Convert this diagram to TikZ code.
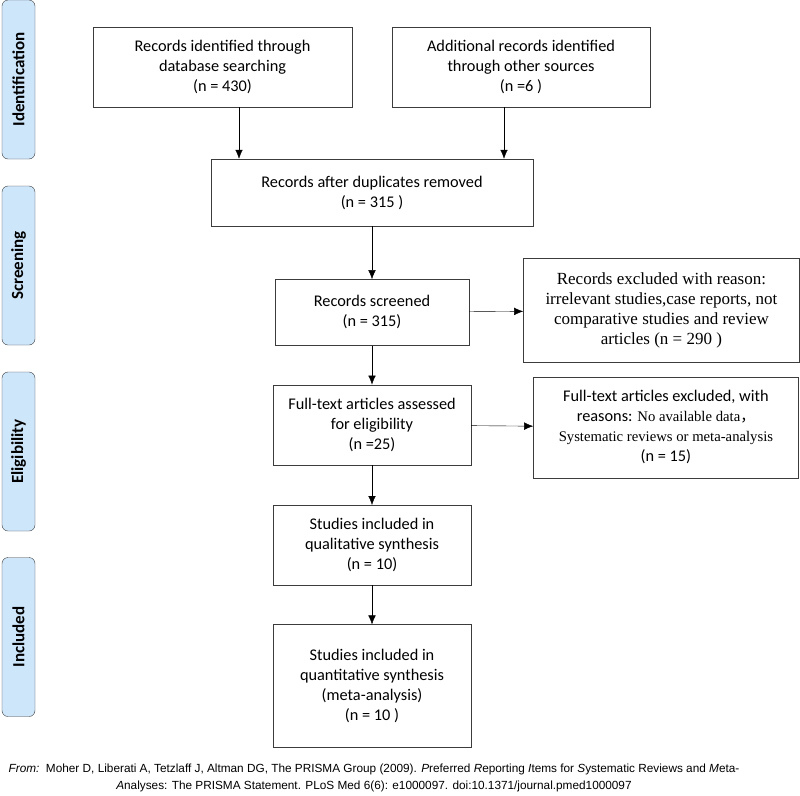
\documentclass[tikz,border=0pt]{standalone}
\usepackage{fontspec}
\setmainfont{Carlito}
\newfontfamily\timesf{Liberation Serif}
\newfontfamily\arialf{Liberation Sans}
\newfontfamily\cjkf{Noto Sans CJK SC}
\usetikzlibrary{positioning, arrows.meta}
\definecolor{sidefill}{RGB}{206,230,250}
\definecolor{boxline}{RGB}{60,60,60}
\tikzset{
  flowbox/.style={
    draw=boxline, align=center, inner sep=2pt,
    font=\fontsize{16.3}{20}\selectfont
  },
  phase/.style={
    draw=boxline, fill=sidefill, rounded corners=6pt, rotate=90,
    minimum width=159pt, minimum height=33pt,
    font=\fontsize{17}{20}\selectfont\bfseries
  },
  -{Latex[length=9pt,width=7.5pt]}, line width=1pt, node distance=40pt
}

\begin{document}
\begin{tikzpicture}
    \useasboundingbox (0,0) rectangle (800pt,-795pt);

    % phases
    \node[phase] (ph0) at (18.5pt,-79.5pt) {Identification};
    \node[phase] (ph1) at (18.5pt,-265.5pt) {Screening};
    \node[phase] (ph2) at (18.5pt,-451.5pt) {Eligibility};
    \node[phase] (ph3) at (18.5pt,-637pt) {Included};

    % boxes
    \node[flowbox, minimum width=259pt, minimum height=80pt] (id1) at (222.5pt,-67pt)
      {Records identified through\\database searching\\(n = 430)};
    \node[flowbox, minimum width=258pt, minimum height=80pt] (id2) at (521pt,-67pt)
      {Additional records identified\\through other sources\\(n =6 )};
    \node[flowbox, minimum width=322pt, minimum height=67pt] (dup) at (372pt,-192.5pt)
      {Records after duplicates removed\\(n = 315 )};
    \node[flowbox, minimum width=194pt, minimum height=66pt, below=53pt of dup] (scr)
      {Records screened\\(n = 315)};
    \node[flowbox, minimum width=276pt, minimum height=104pt, right=54pt of scr, yshift=2pt,
      font=\timesf\fontsize{17}{20}\selectfont] (exc1)
      {Records excluded with reason:\\irrelevant studies,case reports, not\\comparative studies and review\\articles (n = 290 )};
    \node[flowbox, minimum width=198pt, minimum height=80pt, below=39pt of scr] (full)
      {Full-text articles assessed\\for eligibility\\(n =25)};
    \node[flowbox, minimum width=265pt, minimum height=101pt, right=62pt of full, yshift=-2.5pt] (exc2)
      {Full-text articles excluded, with\\reasons: {\timesf\fontsize{14.7}{20}\selectfont No available data}{\cjkf\fontsize{14.7}{20}\selectfont ，}\\
       {\timesf\fontsize{14.7}{20}\selectfont Systematic reviews or meta-analysis}\\(n = 15)};
    \node[flowbox, minimum width=198pt, minimum height=80pt, below=40pt of full] (qual)
      {Studies included in\\qualitative synthesis\\(n = 10)};
    \node[flowbox, minimum width=198pt, minimum height=123pt, below=39pt of qual] (quant)
      {Studies included in\\quantitative synthesis\\(meta-analysis)\\(n = 10 )};

    % source
    \node[font=\arialf\fontsize{11.8}{17}\selectfont, align=center] (src) at (374pt,-778pt)
      {\textit{From:}\ \ Moher D, Liberati A, Tetzlaff J, Altman DG, The PRISMA Group (2009).
       \textit{P}referred \textit{R}eporting \textit{I}tems for \textit{S}ystematic Reviews and \textit{M}eta-\\
       \textit{A}nalyses: The PRISMA Statement. PLoS Med 6(6): e1000097. doi:10.1371/journal.pmed1000097};

    \path ([xshift=16.5pt]id1.south) edge ([xshift=16.5pt]id1.south |- dup.north)
          ([xshift=-17pt]id2.south)  edge ([xshift=-17pt]id2.south |- dup.north)
          (dup)   edge (scr)
          (scr)   edge (exc1)
          (scr)   edge (full)
          (full)  edge (exc2)
          (full)  edge (qual)
          (qual)  edge (quant);
\end{tikzpicture}
\end{document}
